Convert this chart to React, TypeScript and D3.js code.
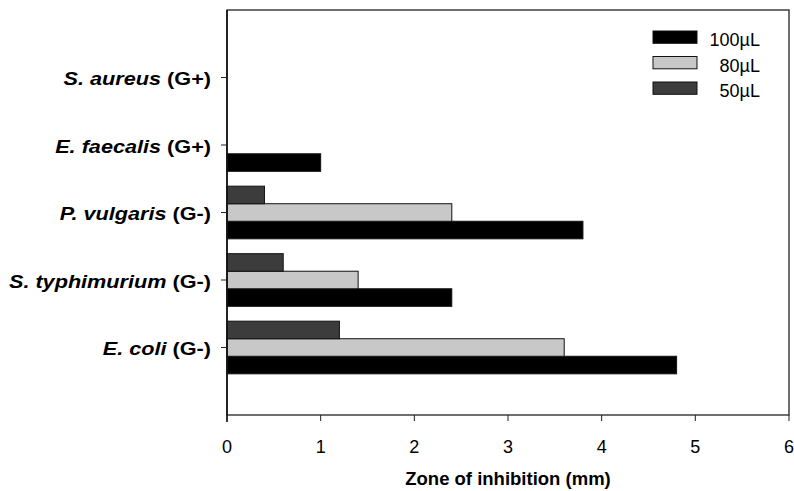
import React from "react";
import * as d3 from "d3";

const categories = ["E. coli", "S. typhimurium", "P. vulgaris", "E. faecalis", "S. aureus"];
const gramLabels = ["(G-)", "(G-)", "(G-)", "(G+)", "(G+)"];
const seriesNames = ["100µL", "80µL", "50µL"];
const seriesColors = ["#000000", "#c8c8c8", "#3c3c3c"];
const values100 = [4.8, 2.4, 3.8, 1.0, 0];
const values80 = [3.6, 1.4, 2.4, 0, 0];
const values50 = [1.2, 0.6, 0.4, 0, 0];
const xTicks = [0, 1, 2, 3, 4, 5, 6];

const W = 794;
const H = 491;
const left = 227;
const right = 789;
const top = 10;
const bottom = 415;
const font = "'Liberation Sans', Arial, sans-serif";

export default function App() {
  const x = d3.scaleLinear().domain([0, 6]).range([left, right]);
  const y = d3.scaleLinear().domain([0, 6]).range([bottom, top]);
  const barH = 0.26; // in y units
  const series = [values100, values80, values50];
  // offsets: 100 below center, 80 centered, 50 above
  const offsets = [-1, 0, 1];
  const sx = 1.14;

  return (
    <svg width={W} height={H} style={{ position: "absolute", left: 0, top: 0 }}>
      <rect x={0} y={0} width={W} height={H} fill="#fff" />
      {series.map((vals, si) =>
        vals.map((v, ci) => {
          if (v <= 0) return null;
          const cy = ci + 1 + offsets[si] * barH;
          const y0 = y(cy + barH / 2);
          const y1 = y(cy - barH / 2);
          return (
            <rect
              key={`${si}-${ci}`}
              x={x(0)}
              y={y0}
              width={x(v) - x(0)}
              height={y1 - y0}
              fill={seriesColors[si]}
              stroke="#111"
              strokeWidth={1}
            />
          );
        })
      )}
      {/* frame */}
      <rect x={left} y={top} width={right - left} height={bottom - top} fill="none" stroke="#222" strokeWidth={1.3} />
      <line x1={left} y1={top} x2={left} y2={bottom + 7} stroke="#111" strokeWidth={1.6} />
      {/* x ticks */}
      {xTicks.map((t) => (
        <g key={t}>
          <line x1={x(t)} x2={x(t)} y1={bottom} y2={bottom + 6} stroke="#222" strokeWidth={1} />
          <text x={x(t)} y={453} textAnchor="middle" fontFamily={font} fontSize={18} fill="#000">
            {t}
          </text>
        </g>
      ))}
      {/* y ticks and labels */}
      {categories.map((c, i) => (
        <g key={c}>
          <line x1={left - 6} x2={left} y1={y(i + 1)} y2={y(i + 1)} stroke="#222" strokeWidth={1} />
          <g transform={`translate(211,${y(i + 1) + 7.5}) scale(${sx},1)`}>
            <text
              x={0}
              y={0}
              textAnchor="end"
              fontFamily={font}
              fontSize={19}
              fontWeight="bold"
              fill="#000"
            >
              <tspan fontStyle="italic">{c}</tspan>
              <tspan> {gramLabels[i]}</tspan>
            </text>
          </g>
        </g>
      ))}
      <text x={(left + right) / 2} y={485} textAnchor="middle" fontFamily={font} fontSize={18.5} fontWeight="bold">
        Zone of inhibition (mm)
      </text>
      {/* legend */}
      {seriesNames.map((n, i) => (
        <g key={n}>
          <rect
            x={653}
            y={31 + i * 25.5}
            width={44}
            height={12.3}
            fill={seriesColors[i]}
            stroke="#111"
            strokeWidth={1}
          />
          <text x={760} y={46 + i * 25.5} textAnchor="end" fontFamily={font} fontSize={18}>
            {n}
          </text>
        </g>
      ))}
    </svg>
  );
}
